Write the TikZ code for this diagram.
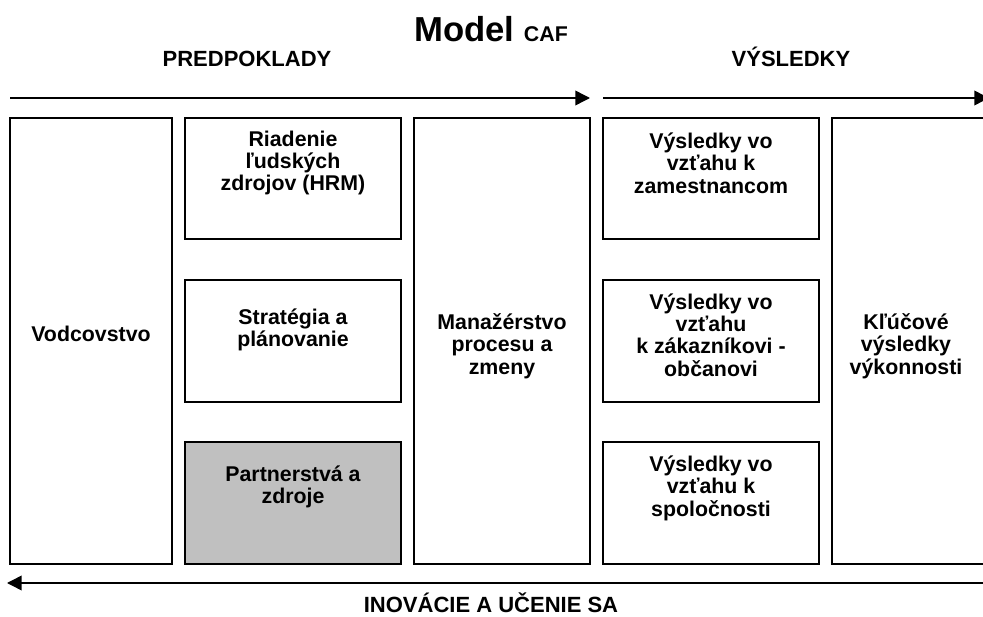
\documentclass[tikz,border=0pt]{standalone}
\usepackage{fontspec}
\setmainfont{Liberation Sans}
\usepackage{tikz}
\usetikzlibrary{arrows.meta}
\definecolor{boxgray}{RGB}{192,192,192}

\begin{document}
\begin{tikzpicture}[x=0.75pt, y=-0.75pt,
  box/.style={draw, line width=1.1pt},
  boxtext/.style={align=center, inner sep=0pt, font=\fontsize{16}{16.8}\selectfont\bfseries},
  head/.style={inner sep=0pt, anchor=base, font=\fontsize{16.5}{18}\selectfont\bfseries},
  flow/.style={line width=1.1pt, -{Triangle[length=11pt, width=11pt]}}]
  \clip (0,0) rectangle (983,617);

  % Title and headings
  \node[inner sep=0pt, anchor=base] (title) at (491,42) {\fontsize{26}{30}\selectfont\bfseries Model \fontsize{16}{18}\selectfont CAF};
  \node[head] (enablers) at (247,67) {PREDPOKLADY};
  \node[head] (results) at (791,67) {VÝSLEDKY};

  % Arrows
  \coordinate (inL) at (10,98);
  \coordinate (inR) at (590,98);
  \coordinate (outL) at (603,98);
  \coordinate (outR) at (989,98);
  \coordinate (loopR) at (984,583);
  \coordinate (loopL) at (7,583);
  \draw[flow] (inL) -- (inR);
  \draw[flow] (outL) -- (outR);
  \draw[flow] (loopR) -- (loopL);
  \node[head] (learning) at (491,612) {INOVÁCIE A UČENIE SA};

  % Enablers
  \draw[box] (10,118) rectangle (172,564);
  \node[boxtext] (lead) at (91,334) {Vodcovstvo};
  \draw[box] (185,118) rectangle (401,239);
  \node[boxtext] (hrm) at (293,163) {Riadenie\\ľudských\\zdrojov (HRM)};
  \draw[box] (185,280) rectangle (401,402);
  \node[boxtext] (strat) at (293,330) {Stratégia a\\plánovanie};
  \draw[box, fill=boxgray] (185,442) rectangle (401,564);
  \node[boxtext] (partner) at (293,487) {Partnerstvá a\\zdroje};
  \draw[box] (414,118) rectangle (590,564);
  \node[boxtext] (proc) at (502,346) {Manažérstvo\\procesu a\\zmeny};

  % Results
  \draw[box] (603,118) rectangle (819,239);
  \node[boxtext] (empl) at (711,163) {Výsledky vo\\vzťahu k\\zamestnancom};
  \draw[box] (603,280) rectangle (819,402);
  \node[boxtext] (cust) at (711,335) {Výsledky vo\\vzťahu\\k zákazníkovi -\\občanovi};
  \draw[box] (603,442) rectangle (819,564);
  \node[boxtext] (soc) at (711,488) {Výsledky vo\\vzťahu k\\spoločnosti};
  \draw[box] (832,118) rectangle (1012,564);
  \node[boxtext] (key) at (906,346) {Kľúčové\\výsledky\\výkonnosti};
\end{tikzpicture}
\end{document}
